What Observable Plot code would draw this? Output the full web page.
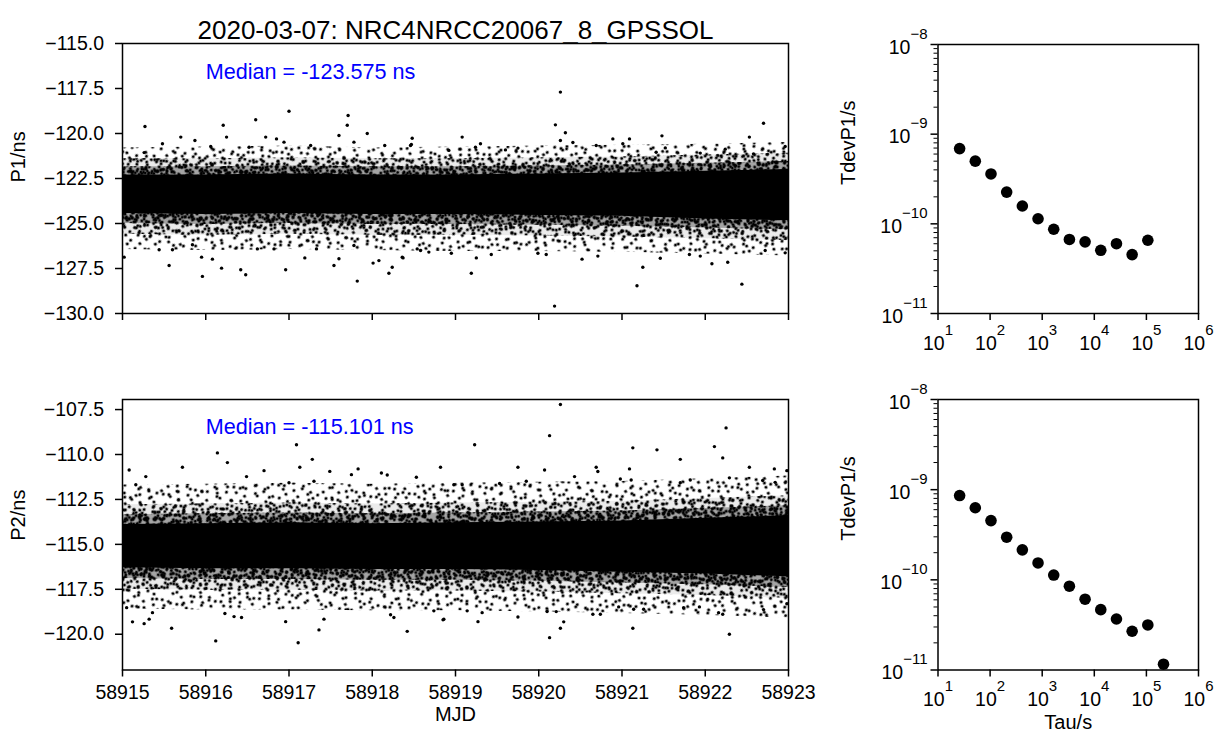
<!DOCTYPE html>
<html><head><meta charset="utf-8">
<script src="https://cdn.jsdelivr.net/npm/d3@7"></script>
<script src="https://cdn.jsdelivr.net/npm/@observablehq/plot@0.6"></script>
<style>
body{margin:0;background:#fff;}
#fig{position:relative;width:1217px;height:742px;overflow:hidden;background:#fff;}
#fig svg{position:absolute;left:0;top:0;background:transparent !important;max-width:none !important;}
</style></head><body><div id="fig"></div>
<script>
// ---------- DATA ----------
const titleText = "2020-03-07: NRC4NRCC20067_8_GPSSOL";
const p1MedianText = "Median = -123.575 ns";
const p2MedianText = "Median = -115.101 ns";
const mjdTicks = [58915, 58916, 58917, 58918, 58919, 58920, 58921, 58922, 58923];
const p1Ticks = [-115, -117.5, -120, -122.5, -125, -127.5, -130];
const p2Ticks = [-107.5, -110, -112.5, -115, -117.5, -120];
const decadeTicksX = [1e1, 1e2, 1e3, 1e4, 1e5, 1e6];
const decadeTicksY = [1e-11, 1e-10, 1e-9, 1e-8];
const minorTicksY = [2e-11,3e-11,4e-11,5e-11,6e-11,7e-11,8e-11,9e-11,
                     2e-10,3e-10,4e-10,5e-10,6e-10,7e-10,8e-10,9e-10,
                     2e-9,3e-9,4e-9,5e-9,6e-9,7e-9,8e-9,9e-9];

// dense-band envelopes of the P1/P2 point clouds (read per day)
const bandMjd  = [58915, 58916, 58917, 58918, 58919, 58920, 58921, 58922, 58923];
const p1CoreHi = [-122.30,-122.30,-122.25,-122.30,-122.30,-122.25,-122.20,-122.10,-122.00];
const p1CoreLo = [-124.45,-124.50,-124.45,-124.50,-124.50,-124.55,-124.60,-124.75,-124.85];
const p1MidHi  = [-121.85,-121.85,-121.80,-121.85,-121.85,-121.80,-121.75,-121.65,-121.55];
const p1MidLo  = [-125.00,-125.05,-125.00,-125.05,-125.05,-125.10,-125.15,-125.25,-125.35];
const p1OutHi  = [-121.40,-121.40,-121.35,-121.40,-121.40,-121.35,-121.30,-121.20,-121.10];
const p1OutLo  = [-125.60,-125.65,-125.60,-125.65,-125.65,-125.70,-125.75,-125.85,-125.95];
const p1FarHi  = [-120.80,-120.75,-120.70,-120.80,-120.75,-120.70,-120.65,-120.60,-120.50];
const p1FarLo  = [-126.45,-126.50,-126.45,-126.50,-126.55,-126.55,-126.60,-126.70,-126.80];

const p2CoreHi = [-113.90,-113.85,-113.80,-113.85,-113.80,-113.75,-113.70,-113.55,-113.40];
const p2CoreLo = [-116.30,-116.35,-116.35,-116.40,-116.40,-116.45,-116.55,-116.65,-116.80];
const p2MidHi  = [-113.35,-113.30,-113.25,-113.30,-113.25,-113.20,-113.15,-113.00,-112.85];
const p2MidLo  = [-116.90,-116.95,-116.95,-117.00,-117.00,-117.05,-117.15,-117.25,-117.40];
const p2OutHi  = [-112.80,-112.75,-112.70,-112.75,-112.70,-112.65,-112.60,-112.45,-112.30];
const p2OutLo  = [-117.50,-117.55,-117.55,-117.60,-117.60,-117.65,-117.75,-117.85,-118.00];
const p2FarHi  = [-111.70,-111.65,-111.60,-111.65,-111.60,-111.55,-111.50,-111.35,-111.20];
const p2FarLo  = [-118.60,-118.65,-118.65,-118.70,-118.70,-118.75,-118.85,-118.95,-119.10];

// individually visible outlier points (MJD, ns)
const p1OutMjd = [58915.27,58916.21,58916.60,58917.00,58917.71,58917.70,58917.94,58918.48,58915.70,58915.48,
  58915.87,58916.25,58916.72,58916.85,58916.94,58917.26,58917.60,58917.78,58918.15,58918.47,
  58916.06,58915.26,58916.52,58915.02,58915.56,58915.96,58915.95,58916.08,58916.19,58916.42,
  58916.48,58916.96,58917.19,58917.54,58917.82,58918.01,58918.08,58918.20,58918.24,58918.36,
  58918.54,58917.60,58918.68,58915.44,58915.60,58915.84,58916.62,58916.82,58917.33,58917.78,
  58920.26,58920.20,58920.32,58920.26,58920.41,58922.70,58922.53,58918.46,58919.08,58919.30,
  58919.24,58920.89,58921.09,58921.01,58921.48,58920.69,58919.75,58919.60,58918.92,58921.41,
  58921.52,58922.24,58922.96,58921.94,58922.58,58920.19,58919.19,58921.18,58922.44,58921.25,
  58920.52,58920.71,58921.46,58922.08,58922.27,58922.96,58918.37,58919.25,58919.43,58918.95,
  58919.99,58920.09,58921.81,58921.94,58922.72,58918.58];
const p1OutVal = [-119.61,-119.54,-119.24,-118.76,-119.00,-119.54,-120.00,-120.26,-120.20,-120.57,
  -120.39,-120.20,-120.20,-120.30,-120.48,-120.67,-120.11,-120.48,-120.67,-120.61,
  -120.72,-121.06,-120.76,-126.87,-127.33,-127.94,-126.87,-126.98,-127.48,-127.57,
  -127.85,-127.57,-126.91,-127.33,-128.20,-127.20,-127.06,-127.76,-127.43,-126.87,
  -126.41,-126.96,-126.59,-126.46,-126.46,-126.18,-126.41,-126.41,-126.41,-126.22,
  -117.70,-119.52,-119.96,-120.39,-120.50,-119.43,-120.20,-120.67,-120.20,-120.57,
  -120.76,-120.30,-120.30,-120.57,-120.13,-120.67,-120.81,-120.91,-120.94,-121.04,
  -120.80,-120.87,-120.72,-121.09,-121.13,-129.59,-127.76,-128.46,-128.37,-127.43,
  -126.98,-126.81,-126.93,-127.24,-127.15,-126.63,-126.91,-126.91,-126.72,-126.65,
  -126.65,-126.72,-126.72,-126.81,-126.50,-126.50];

const p2OutMjd = [58915.08,58916.14,58916.26,58915.72,58917.09,58917.13,58917.28,58917.49,58917.83,58918.11,
  58918.18,58918.82,58916.70,58915.28,58916.49,58917.75,58918.53,58917.00,58917.30,58915.16,
  58916.12,58917.11,58915.59,58917.36,58918.42,58915.12,58915.26,58915.32,58915.36,58915.05,
  58916.96,58917.42,58916.23,58916.34,58916.43,58918.22,58918.26,58918.85,
  58920.26,58920.13,58922.25,58919.23,58921.13,58921.42,58922.11,58922.21,58921.70,58922.53,
  58922.83,58922.98,58919.75,58920.07,58920.69,58920.71,58921.09,58920.43,58921.11,58920.98,
  58922.29,58922.69,58922.84,58921.82,58921.70,58919.85,58919.53,58918.98,58919.08,
  58920.13,58922.29,58921.13,58920.26,58920.30,58919.27,58918.86,58919.75,58920.74,58920.65,
  58922.16,58922.21,58922.70,58921.74,58921.93,58920.21,58920.10,58922.98,58918.74,58919.14,
  58919.32,58920.96,58921.14,58921.26];
const p2OutVal = [-110.86,-109.91,-110.45,-110.71,-109.46,-110.71,-110.27,-110.94,-110.80,-111.03,
  -111.14,-110.71,-110.90,-111.23,-111.23,-111.12,-111.27,-111.57,-111.49,-111.68,
  -120.37,-120.47,-119.67,-119.76,-119.84,-119.31,-119.41,-119.16,-118.80,-118.52,
  -119.30,-119.16,-118.85,-119.02,-119.07,-118.92,-119.07,-119.20,
  -107.22,-108.95,-108.52,-109.46,-109.63,-109.74,-109.56,-110.19,-110.27,-110.71,
  -110.80,-110.90,-110.71,-110.86,-110.71,-110.95,-110.80,-111.23,-111.42,-111.36,
  -111.30,-111.45,-111.55,-111.42,-111.57,-111.49,-111.61,-111.68,-111.68,
  -120.19,-120.00,-119.67,-119.67,-119.31,-119.30,-119.17,-119.04,-118.89,-118.89,
  -118.80,-118.89,-118.63,-118.53,-118.48,-118.74,-118.74,-118.30,-118.70,-118.70,
  -118.80,-118.48,-118.61,-118.61];

// TDEV
const tau1  = [26, 52, 104, 208, 416, 832, 1664, 3328, 6656, 13312, 26624, 53248, 106496];
const tdev1 = [6.9e-10, 5.0e-10, 3.6e-10, 2.26e-10, 1.58e-10, 1.14e-10, 8.7e-11, 6.7e-11, 6.3e-11, 5.07e-11, 6.0e-11, 4.54e-11, 6.56e-11];
const tau2  = [26, 52, 104, 208, 416, 832, 1664, 3328, 6656, 13312, 26624, 53248, 106496, 212992];
const tdev2 = [8.6e-10, 6.3e-10, 4.54e-10, 2.97e-10, 2.15e-10, 1.54e-10, 1.13e-10, 8.5e-11, 6.1e-11, 4.67e-11, 3.68e-11, 2.69e-11, 3.16e-11, 1.16e-11];

// ---------- STYLE: stipple textures for the dense halo fills ----------
const W = 1217, H = 742;
const FONT = "'Liberation Sans', Arial, Helvetica, sans-serif";
const TICKFS = 19.5, LABFS = 20;
const fig = document.getElementById("fig");

const defsSvg = d3.select(fig).append("svg").attr("width", 0).attr("height", 0);
const defs = defsSvg.append("defs");
const stippleDots = [[3,4],[11,17],[19,8],[27,20],[7,12],[24,2],[15,21],[29,11]];
const stippleXf = ["rotate(17)", "rotate(-41) translate(5,3)", "rotate(-23) translate(11,7)",
  "rotate(61) translate(3,12)", "rotate(-49) translate(17,2)", "rotate(29) translate(8,14)",
  "rotate(79) translate(14,6)", "rotate(-71) translate(6,9)", "rotate(103) translate(9,4)",
  "rotate(-113) translate(2,16)"];
stippleXf.forEach((xf, i) => {
  const p = defs.append("pattern").attr("id", "stip" + i).attr("patternUnits", "userSpaceOnUse")
    .attr("width", 31).attr("height", 23).attr("patternTransform", xf);
  stippleDots.forEach(([cx, cy]) => p.append("circle").attr("cx", cx).attr("cy", cy).attr("r", 1.6).attr("fill", "black"));
});

const fmt1 = d3.format(".1f");
const fmtD = d => String(d);
const supFmt = d => "10^" + String(Math.round(Math.log10(d))).replace("-", "\u2212");

const bandRows = (lo, hi) => bandMjd.map((m, i) => ({m, lo: lo[i], hi: hi[i]}));
const pts = (xs, ys) => xs.map((x, i) => ({x, y: ys[i]}));

function area(lo, hi, fill, op = 1) {
  return Plot.areaY(bandRows(lo, hi), {x: "m", y1: "lo", y2: "hi", fill, fillOpacity: op, clip: true});
}
function cloud(b) {
  return [
    area(b.farLo, b.farHi, "url(#stip0)"),
    area(b.farLo, b.farHi, "url(#stip1)"),
    area(b.outLo, b.outHi, "black", 0.08),
    area(b.outLo, b.outHi, "url(#stip2)"),
    area(b.outLo, b.outHi, "url(#stip3)"),
    area(b.outLo, b.outHi, "url(#stip4)"),
    area(b.midLo, b.midHi, "black", 0.3),
    area(b.midLo, b.midHi, "url(#stip5)"),
    area(b.midLo, b.midHi, "url(#stip6)"),
    area(b.midLo, b.midHi, "url(#stip7)"),
    area(b.midLo, b.midHi, "url(#stip8)"),
    area(b.midLo, b.midHi, "url(#stip9)"),
    area(b.coreLo, b.coreHi, "black")
  ];
}

function place(svg) {
  fig.appendChild(svg);
  d3.select(svg).selectAll("text").each(function () {
    const t = this.textContent;
    if (t.startsWith("10^")) {
      const [b, e] = t.split("^");
      const s = d3.select(this);
      s.text(null);
      s.append("tspan").text(b);
      s.append("tspan").attr("font-size", "15px").attr("dy", "-15").text(e);
    }
  });
}

const common = (l, r, t, b) => ({
  width: W, height: H,
  marginLeft: l, marginRight: W - r, marginTop: t, marginBottom: H - b,
  style: {fontFamily: FONT, fontSize: TICKFS + "px", background: "transparent", color: "black"}
});

// Top-left: P1
place(Plot.plot({
  ...common(122, 788, 43, 313),
  x: {domain: [58915, 58923]},
  y: {domain: [-130, -115]},
  marks: [
    ...cloud({coreLo: p1CoreLo, coreHi: p1CoreHi, midLo: p1MidLo, midHi: p1MidHi,
              outLo: p1OutLo, outHi: p1OutHi, farLo: p1FarLo, farHi: p1FarHi}),
    Plot.dot(pts(p1OutMjd, p1OutVal), {x: "x", y: "y", r: 1.7, fill: "black", clip: true}),
    Plot.frame({stroke: "black", strokeWidth: 1.5}),
    Plot.axisX({ticks: mjdTicks, tickSize: 7, strokeWidth: 1.5, tickFormat: () => "", label: null}),
    Plot.axisY({ticks: p1Ticks, tickSize: 7, strokeWidth: 1.5, tickFormat: () => "", label: null}),
    Plot.axisY({ticks: p1Ticks, tickSize: 0, tickPadding: 18.5, tickFormat: fmt1, fontSize: TICKFS, label: null}),
    Plot.text([p1MedianText], {x: () => 58916.0, y: () => -116.6, text: d => d, textAnchor: "start", fill: "#0000ff", fontSize: 21.6}),
    Plot.text(["P1/ns"], {frameAnchor: "left", dx: -103.5, dy: 4, rotate: -90, text: d => d, fontSize: LABFS, fill: "black"}),
    Plot.text([titleText], {frameAnchor: "top", dy: -22.5, text: d => d, fontSize: 26, fill: "black"})
  ]
}));

// Bottom-left: P2
place(Plot.plot({
  ...common(122, 788, 399, 669.5),
  x: {domain: [58915, 58923]},
  y: {domain: [-121.99, -106.94]},
  marks: [
    ...cloud({coreLo: p2CoreLo, coreHi: p2CoreHi, midLo: p2MidLo, midHi: p2MidHi,
              outLo: p2OutLo, outHi: p2OutHi, farLo: p2FarLo, farHi: p2FarHi}),
    Plot.dot(pts(p2OutMjd, p2OutVal), {x: "x", y: "y", r: 1.7, fill: "black", clip: true}),
    Plot.frame({stroke: "black", strokeWidth: 1.5}),
    Plot.axisX({ticks: mjdTicks, tickSize: 7, strokeWidth: 1.5, tickFormat: () => "", label: null}),
    Plot.axisX({ticks: mjdTicks, tickSize: 0, tickPadding: 15.5, tickFormat: fmtD, fontSize: TICKFS, label: null}),
    Plot.axisY({ticks: p2Ticks, tickSize: 7, strokeWidth: 1.5, tickFormat: () => "", label: null}),
    Plot.axisY({ticks: p2Ticks, tickSize: 0, tickPadding: 18.5, tickFormat: fmt1, fontSize: TICKFS, label: null}),
    Plot.text([p2MedianText], {x: () => 58916.0, y: () => -108.5, text: d => d, textAnchor: "start", fill: "#0000ff", fontSize: 21.6}),
    Plot.text(["P2/ns"], {frameAnchor: "left", dx: -103.5, dy: 6, rotate: -90, text: d => d, fontSize: LABFS, fill: "black"}),
    Plot.text(["MJD"], {frameAnchor: "bottom", dy: 50.5, text: d => d, fontSize: LABFS, fill: "black"})
  ]
}));

function tdevPanel(top, bottom, taus, vals, withXLabel) {
  return Plot.plot({
    ...common(937.5, 1198, top, bottom),
    x: {type: "log", domain: [10, 1e6]},
    y: {type: "log", domain: [1e-11, 1e-8]},
    marks: [
      Plot.dot(pts(taus, vals), {x: "x", y: "y", r: 5.8, fill: "black"}),
      Plot.frame({stroke: "black", strokeWidth: 1.5}),
      Plot.axisX({ticks: decadeTicksX, tickSize: 7, strokeWidth: 1.5, tickFormat: () => "", label: null}),
      Plot.axisX({ticks: decadeTicksX, tickSize: 0, tickPadding: 22.5, tickFormat: supFmt, fontSize: TICKFS, label: null}),
      Plot.axisY({ticks: decadeTicksY, tickSize: 7, strokeWidth: 1.5, tickFormat: () => "", label: null}),
      Plot.axisY({ticks: minorTicksY, tickSize: 4, strokeWidth: 1, tickFormat: () => "", label: null}),
      Plot.axisY({ticks: decadeTicksY, tickSize: 0, tickPadding: 10.5, dy: 3, tickFormat: supFmt, fontSize: TICKFS, label: null}),
      Plot.text(["TdevP1/s"], {frameAnchor: "left", dx: -89.5, dy: 6, rotate: -90, text: d => d, fontSize: LABFS, fill: "black"}),
      withXLabel ? Plot.text(["Tau/s"], {frameAnchor: "bottom", dy: 58.5, text: d => d, fontSize: LABFS, fill: "black"}) : null
    ]
  });
}

place(tdevPanel(44, 313, tau1, tdev1, false));
place(tdevPanel(399, 669.5, tau2, tdev2, true));
</script></body></html>
